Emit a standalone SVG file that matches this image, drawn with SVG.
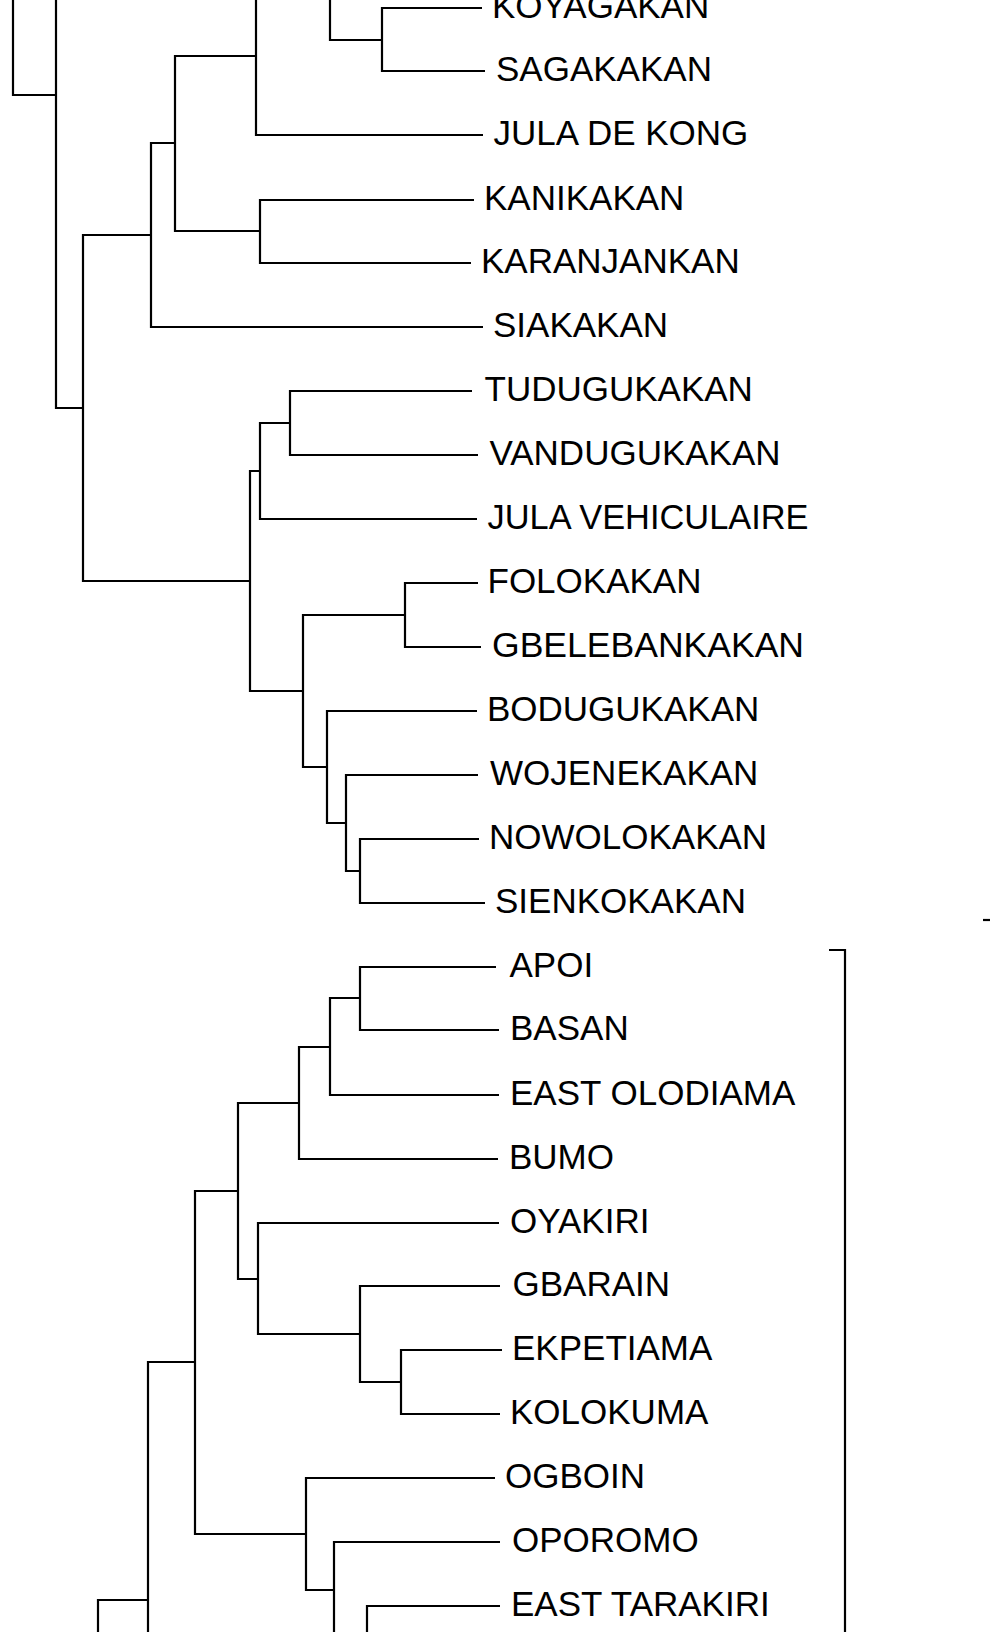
<svg xmlns="http://www.w3.org/2000/svg" width="990" height="1632" viewBox="0 0 990 1632">
<style>
.e{fill:none;stroke:#000;stroke-width:2.2;stroke-linejoin:miter;stroke-linecap:butt}
.t{font-family:"Liberation Sans",Arial,sans-serif;font-size:35px;fill:#000}
</style>
<rect width="990" height="1632" fill="#fff"/>
<g id="connectors" class="e">
<path d="M13 0 V95 H56"/>
<path d="M56 0 V408 H83"/>
<path d="M151 235 H83 V581 H250"/>
<path d="M175 143 H151 V327 H483"/>
<path d="M256 56 H175 V231 H260"/>
<path d="M256 0 V135 H483"/>
<path d="M330 0 V40 H382"/>
<path d="M482 8 H382 V71 H485"/>
<path d="M474 200 H260 V263 H471"/>
<path d="M260 471 H250 V691 H303"/>
<path d="M290 423 H260 V519 H477"/>
<path d="M472 391 H290 V455 H478"/>
<path d="M405 615 H303 V767 H327"/>
<path d="M478 583 H405 V647 H481"/>
<path d="M477 711 H327 V823 H346"/>
<path d="M478 775 H346 V871 H360"/>
<path d="M479 839 H360 V903 H485"/>
<path d="M496 967 H360 V1030 H499"/>
<path d="M360 998 H330 V1095 H499"/>
<path d="M330 1047 H299 V1159 H498"/>
<path d="M299 1103 H238 V1279 H258"/>
<path d="M499 1223 H258 V1334 H360"/>
<path d="M500 1286 H360 V1382 H401"/>
<path d="M502 1350 H401 V1414 H500"/>
<path d="M238 1191 H195 V1534 H306"/>
<path d="M495 1478 H306 V1590 H334"/>
<path d="M500 1542 H334 V1632"/>
<path d="M500 1606 H367 V1632"/>
<path d="M195 1362 H148 V1632"/>
<path d="M148 1600 H98 V1632"/>
<path d="M829 950 H845 V1632"/>
<path d="M983 920 H990"/>
</g>
<g id="n-koyagakan"><text class="t" x="492" y="18">KOYAGAKAN</text></g>
<g id="n-sagakakan"><text class="t" x="496" y="81">SAGAKAKAN</text></g>
<g id="n-jula-de-kong"><text class="t" x="493.5" y="145">JULA DE KONG</text></g>
<g id="n-kanikakan"><text class="t" x="484" y="210">KANIKAKAN</text></g>
<g id="n-karanjankan"><text class="t" x="481" y="273">KARANJANKAN</text></g>
<g id="n-siakakan"><text class="t" x="493" y="337">SIAKAKAN</text></g>
<g id="n-tudugukakan"><text class="t" x="484.5" y="401">TUDUGUKAKAN</text></g>
<g id="n-vandugukakan"><text class="t" x="489.5" y="465">VANDUGUKAKAN</text></g>
<g id="n-jula-vehiculaire"><text class="t" x="487.5" y="529" textLength="321" lengthAdjust="spacingAndGlyphs">JULA VEHICULAIRE</text></g>
<g id="n-folokakan"><text class="t" x="487.5" y="593">FOLOKAKAN</text></g>
<g id="n-gbelebankakan"><text class="t" x="492" y="657" textLength="312" lengthAdjust="spacingAndGlyphs">GBELEBANKAKAN</text></g>
<g id="n-bodugukakan"><text class="t" x="487" y="721">BODUGUKAKAN</text></g>
<g id="n-wojenekakan"><text class="t" x="490" y="785">WOJENEKAKAN</text></g>
<g id="n-nowolokakan"><text class="t" x="489" y="849">NOWOLOKAKAN</text></g>
<g id="n-sienkokakan"><text class="t" x="495" y="913">SIENKOKAKAN</text></g>
<g id="n-apoi"><text class="t" x="509.5" y="977">APOI</text></g>
<g id="n-basan"><text class="t" x="510" y="1040">BASAN</text></g>
<g id="n-east-olodiama"><text class="t" x="510" y="1105">EAST OLODIAMA</text></g>
<g id="n-bumo"><text class="t" x="509" y="1169">BUMO</text></g>
<g id="n-oyakiri"><text class="t" x="510" y="1233">OYAKIRI</text></g>
<g id="n-gbarain"><text class="t" x="512.5" y="1296">GBARAIN</text></g>
<g id="n-ekpetiama"><text class="t" x="512" y="1360">EKPETIAMA</text></g>
<g id="n-kolokuma"><text class="t" x="510" y="1424">KOLOKUMA</text></g>
<g id="n-ogboin"><text class="t" x="505" y="1488">OGBOIN</text></g>
<g id="n-oporomo"><text class="t" x="512" y="1552">OPOROMO</text></g>
<g id="n-east-tarakiri"><text class="t" x="511" y="1616">EAST TARAKIRI</text></g>
</svg>
